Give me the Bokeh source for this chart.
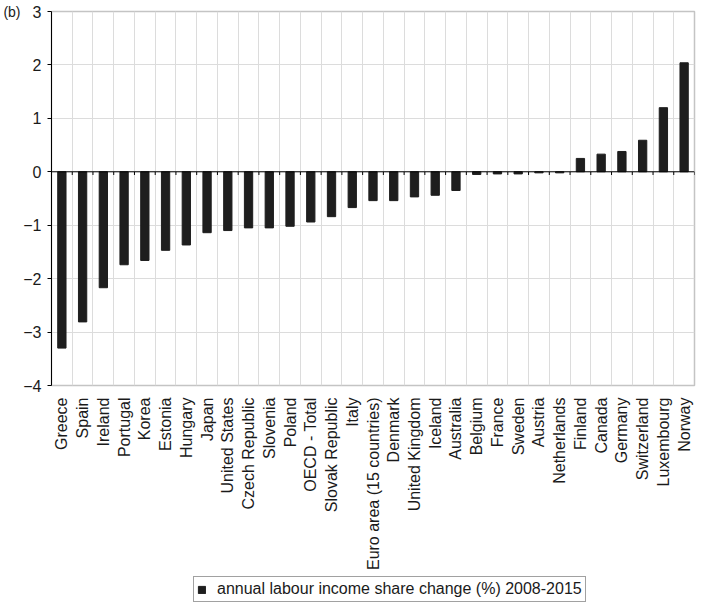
import math
from bokeh.plotting import figure
from bokeh.layouts import column
from bokeh.models import (ColumnDataSource, FactorRange, Range1d, FixedTicker,
                          Span, Legend, LegendItem, LinearAxis)
from bokeh.transform import dodge
from bokeh.embed import file_html
from bokeh.resources import INLINE

# ---- data ----
countries = ["Greece", "Spain", "Ireland", "Portugal", "Korea", "Estonia", "Hungary",
             "Japan", "United States", "Czech Republic", "Slovenia", "Poland",
             "OECD - Total", "Slovak Republic", "Italy", "Euro area (15 countries)",
             "Denmark", "United Kingdom", "Iceland", "Australia", "Belgium", "France",
             "Sweden", "Austria", "Netherlands", "Finland", "Canada", "Germany",
             "Switzerland", "Luxembourg", "Norway"]
values = [-3.30, -2.81, -2.17, -1.74, -1.66, -1.47, -1.37,
          -1.14, -1.10, -1.05, -1.05, -1.02,
          -0.94, -0.84, -0.67, -0.54,
          -0.54, -0.47, -0.44, -0.35, -0.05, -0.04,
          -0.04, -0.02, -0.02, 0.25, 0.33, 0.38,
          0.59, 1.20, 2.04]
y_ticks = [-4, -3, -2, -1, 0, 1, 2, 3]
y_tick_labels = ["\u22124", "\u22123", "\u22122", "\u22121", "0", "1", "2", "3"]
series_name = "annual labour income share change (%) 2008-2015"
panel_tag = "(b)"

FONT = "Liberation Sans"
TXT = "#1a1a1a"
BAR = "#1e1e1e"

src = ColumnDataSource(dict(country=countries, value=values))
last_src = ColumnDataSource(dict(country=countries[-1:], value=values[-1:]))

p = figure(x_range=FactorRange(factors=countries), y_range=Range1d(y_ticks[0], y_ticks[-1]),
           frame_width=643, frame_height=374,
           min_border_left=47, min_border_right=27, min_border_top=11, min_border_bottom=190,
           output_backend="svg", toolbar_location=None,
           background_fill_color="white", border_fill_color="white",
           outline_line_color="#c4c4c4", outline_line_width=1.5)

# grids
p.xgrid.ticker = FixedTicker(ticks=list(range(len(countries) + 1)))
p.xgrid.grid_line_color = "#dcdcdc"
p.xgrid.grid_line_width = 1
p.ygrid.ticker = FixedTicker(ticks=y_ticks)
p.ygrid.grid_line_color = "#dcdcdc"
p.ygrid.grid_line_width = 1

# x axis
xa = p.xaxis[0]
xa.major_label_orientation = math.pi / 2
xa.axis_line_color = None
xa.major_tick_line_color = None
xa.minor_tick_line_color = None
xa.major_label_standoff = 6
xa.major_label_text_font = FONT
xa.major_label_text_font_size = "16px"
xa.major_label_text_color = TXT

# y axis
ya = p.yaxis[0]
ya.ticker = FixedTicker(ticks=y_ticks)
ya.major_label_overrides = {t: l for t, l in zip(y_ticks, y_tick_labels)}
ya.axis_line_color = "black"
ya.axis_line_width = 1
ya.major_tick_line_color = "black"
ya.major_tick_out = 4
ya.major_tick_in = 0
ya.minor_tick_line_color = None
ya.major_label_standoff = 6
ya.major_label_text_font = FONT
ya.major_label_text_font_size = "16px"
ya.major_label_text_color = TXT

# panel tag "(b)" as an outer left axis label at the top value
tag_axis = LinearAxis(ticker=FixedTicker(ticks=[y_ticks[-1]]),
                      major_label_overrides={y_ticks[-1]: panel_tag},
                      axis_line_color=None, major_tick_line_color=None,
                      minor_tick_line_color=None, major_tick_out=0, major_tick_in=0,
                      major_label_standoff=0,
                      major_label_text_font=FONT, major_label_text_font_size="14px",
                      major_label_text_color=TXT)
p.add_layout(tag_axis, "left")

# bars
bars = p.vbar(x="country", top="value", width=0.4, source=src,
              fill_color=BAR, line_color=BAR)

# zero line with small ticks at category boundaries
p.add_layout(Span(location=0, dimension="width", line_color="black", line_width=1))
p.segment(x0=dodge("country", -0.5, range=p.x_range), y0=0,
          x1=dodge("country", -0.5, range=p.x_range), y1=-0.06,
          source=src, line_color="black", line_width=1)
p.segment(x0=dodge("country", 0.5, range=p.x_range), y0=0,
          x1=dodge("country", 0.5, range=p.x_range), y1=-0.06,
          source=last_src, line_color="black", line_width=1)

# ---- legend strip below the chart ----
# same bar series on an out-of-view y range, only to carry the legend entry
p2 = figure(x_range=FactorRange(factors=countries), y_range=Range1d(100, 101),
            width=717, height=36, min_border=0,
            x_axis_location=None, y_axis_location=None,
            output_backend="svg", toolbar_location=None,
            background_fill_color="white", border_fill_color="white",
            outline_line_color=None)
p2.xgrid.visible = False
p2.ygrid.visible = False
bars2 = p2.vbar(x="country", top="value", width=0.4, source=src,
                fill_color=BAR, line_color=BAR)

legend = Legend(items=[LegendItem(label=series_name, renderers=[bars2])],
                location=(142, 9), orientation="horizontal",
                border_line_color="#444444", border_line_width=1,
                background_fill_color="white", background_fill_alpha=1,
                padding=3, margin=0, glyph_width=9, glyph_height=9,
                label_standoff=11, label_height=14,
                label_text_font=FONT, label_text_font_size="16px",
                label_text_color=TXT)
p2.add_layout(legend, "center")

layout = column(p, p2, spacing=0)
open("out.html", "w").write(file_html(layout, INLINE))
